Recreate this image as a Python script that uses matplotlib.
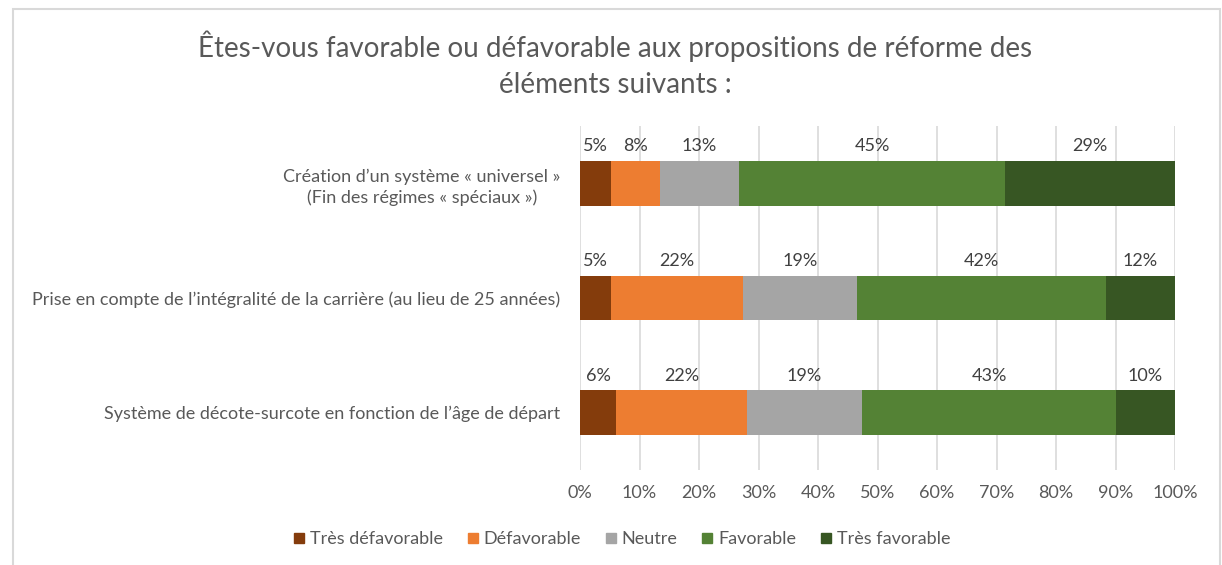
import matplotlib
matplotlib.use("Agg")
import matplotlib.pyplot as plt
from matplotlib.patches import Rectangle
from matplotlib.lines import Line2D
import numpy as np

plt.rcParams['font.family'] = ['Lato', 'DejaVu Sans']

categories = [
    "Création d’un système « universel »\n(Fin des régimes « spéciaux »)",
    "Prise en compte de l’intégralité de la carrière (au lieu de 25 années)",
    "Système de décote-surcote en fonction de l’âge de départ",
]
series_names = ["Très défavorable", "Défavorable", "Neutre", "Favorable", "Très favorable"]
tres_defavorable = [5.2, 5.2, 6.1]
defavorable = [8.2, 22.2, 22.0]
neutre = [13.4, 19.2, 19.3]
favorable = [44.6, 41.8, 42.7]
tres_favorable = [28.6, 11.6, 9.9]
colors = ["#843C0C", "#ED7D31", "#A5A5A5", "#548235", "#375623"]
xticks = [0, 10, 20, 30, 40, 50, 60, 70, 80, 90, 100]
xtick_labels = [f"{t}%" for t in xticks]
title = "Êtes-vous favorable ou défavorable aux propositions de réforme des\néléments suivants :"

series = [tres_defavorable, defavorable, neutre, favorable, tres_favorable]

fig = plt.figure(figsize=(12.22, 5.65), dpi=100)
ax = fig.add_axes([580/1222, 1-470/565, 595/1222, 344/565])

ypos = np.arange(len(categories))
bar_h = 0.39
left = np.zeros(len(categories))
text_col = "#595959"
fs = 13
for vals, name, col in zip(series, series_names, colors):
    vals = np.array(vals)
    ax.barh(ypos, vals, left=left, height=bar_h, color=col, label=name, zorder=3)
    for y, l, v in zip(ypos, left, vals):
        ax.annotate(f"{round(v):.0f}%", xy=(l + v/2, y - bar_h/2), xytext=(0, 10.5),
                    textcoords="offset points", ha="center", va="center",
                    fontsize=fs, color="#404040", zorder=4)
    left = left + vals

ax.set_xlim(0, 100)
ax.set_ylim(len(categories) - 0.5, -0.5)
ax.set_xticks(xticks)
ax.set_xticklabels(xtick_labels, fontsize=fs, color=text_col)
ax.set_yticks(ypos)
ax.set_yticklabels(categories, fontsize=fs, color=text_col, multialignment="center",
                   linespacing=1.35)
ax.tick_params(axis="both", length=0)
ax.tick_params(axis="y", pad=14)
ax.tick_params(axis="x", pad=11)
ax.grid(axis="x", color="#D9D9D9", linewidth=1.2, zorder=0)
for s in ax.spines.values():
    s.set_visible(False)

fig.text(615/1222, 1-64/565, title, ha="center", va="center", fontsize=20,
         color=text_col, linespacing=1.5)

handles = [Line2D([0], [0], marker="s", linestyle="none", markersize=7.5,
                  markerfacecolor=c, markeredgecolor=c) for c in colors]
fig.legend(handles, series_names, loc="center", bbox_to_anchor=(620/1222, 1-539/565),
           ncol=5, frameon=False, fontsize=fs, labelcolor=text_col,
           handletextpad=0.1, columnspacing=1.15, handlelength=1.0)

fig.patches.append(Rectangle((13/1222, -0.05), (1220-13)/1222, (1-9/565)+0.05,
                             transform=fig.transFigure, fill=False,
                             edgecolor="#D9D9D9", linewidth=1.5))

fig.savefig("out.png", dpi=100)
